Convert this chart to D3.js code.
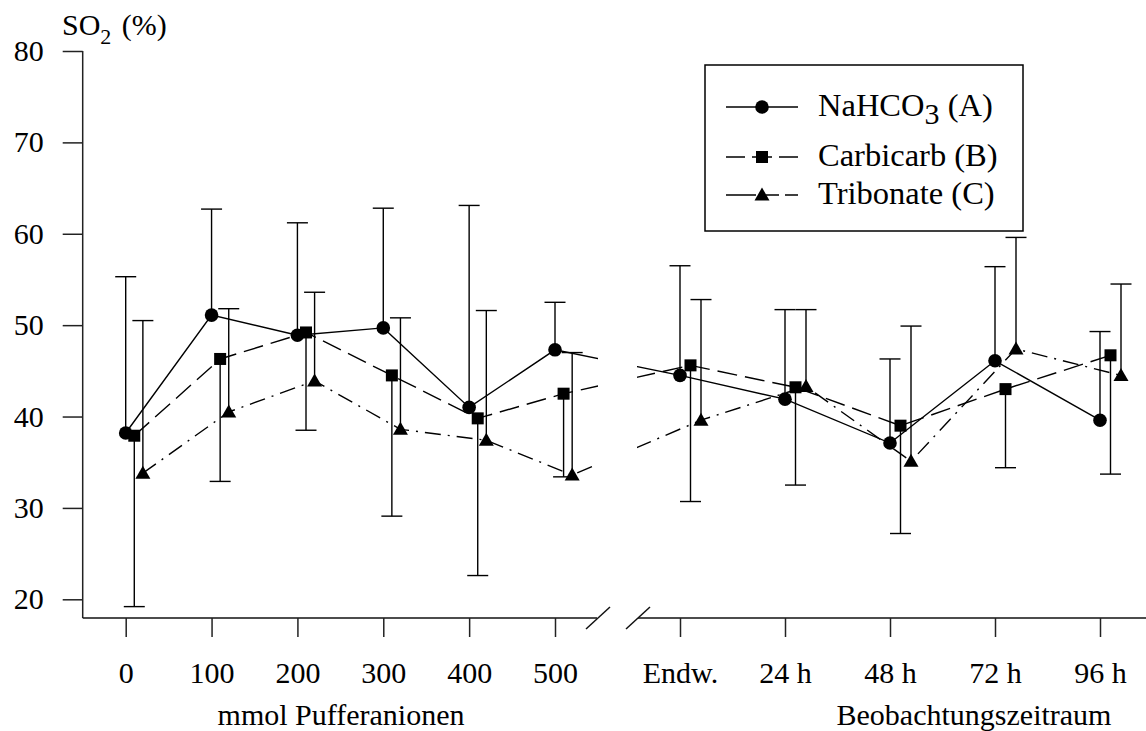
<!DOCTYPE html>
<html><head><meta charset="utf-8">
<script src="https://cdn.jsdelivr.net/npm/d3@7"></script>
<style>html,body{margin:0;padding:0;background:#fff}svg{display:block}text{font-family:"Liberation Serif","Times New Roman",serif;fill:#000}</style>
</head><body>
<svg id="c" width="1146" height="731"></svg>
<script>
// ---- data ----
const leftCats = ["0","100","200","300","400","500"];
const rightCats = ["Endw.","24 h","48 h","72 h","96 h"];
const yTicks = [20,30,40,50,60,70,80];
const seriesNames = ["NaHCO3 (A)","Carbicarb (B)","Tribonate (C)"];
// means (left 6 values, then right 5 values)
const valsA = [38.2,51.1,48.9,49.7,41.0,47.3, 44.5,41.9,37.1,46.1,39.6];
const valsB = [37.9,46.3,49.2,44.5,39.8,42.5, 45.6,43.2,39.0,43.0,46.7];
const valsC = [33.8,40.5,43.9,38.6,37.4,33.6, 39.6,43.3,35.1,47.4,44.5];
// error bar end values (A & C upward, B downward)
const errA = [55.3,62.7,61.2,62.8,63.1,52.5, 56.5,51.7,46.3,56.4,49.3];
const errB = [19.2,32.9,38.5,29.1,22.6,33.4, 30.7,32.5,27.2,34.4,33.7];
const errC = [50.5,51.8,53.6,50.8,51.6,47.0, 52.8,51.7,49.9,59.6,54.5];

const FS = 30;
const svg = d3.select("#c");
const y = d3.scaleLinear().domain([20,80]).range([599.3,51]);
const xL = d3.scaleLinear().domain([0,5]).range([125.7,555]);
const xR = d3.scaleLinear().domain([0,4]).range([680,1100]);
const stepL = xL(1)-xL(0), stepR = xR(1)-xR(0);
const axisY = 618, axisX = 82.7;

function xPos(i, k){
  if(i < leftCats.length) return xL(i) + k*0.1*stepL;
  return xR(i-leftCats.length) + k*0.1*stepR;
}

const series = [
  {vals:valsA, err:errA, dash:null, marker:"circle"},
  {vals:valsB, err:errB, dash:"20,8", marker:"square"},
  {vals:valsC, err:errC, dash:"16,7,2,7", marker:"triangle"}
];

// clip for axis break
const defs = svg.append("defs");
const cp = defs.append("clipPath").attr("id","brk");
cp.append("rect").attr("x",0).attr("y",0).attr("width",598).attr("height",731);
cp.append("rect").attr("x",637).attr("y",0).attr("width",509).attr("height",731);

// ---- axes ----
const yAxis = d3.axisLeft(y).tickValues(yTicks).tickSize(20).tickSizeOuter(0).tickPadding(19).tickFormat(d3.format("d"));
const gy = svg.append("g").attr("transform",`translate(${axisX},0)`).call(yAxis);
gy.select(".domain").remove();
gy.selectAll(".tick line").attr("stroke","#222").attr("stroke-width",1.5);
gy.selectAll(".tick text").attr("font-size",FS).attr("font-family","Liberation Serif").attr("fill","#000");
svg.append("line").attr("x1",axisX).attr("x2",axisX).attr("y1",y(80)).attr("y2",axisY).attr("stroke","#222").attr("stroke-width",1.5);

// x axis lines
svg.append("line").attr("x1",axisX).attr("x2",597).attr("y1",axisY).attr("y2",axisY).attr("stroke","#111").attr("stroke-width",1.5);
svg.append("line").attr("x1",638).attr("x2",1146).attr("y1",axisY).attr("y2",axisY).attr("stroke","#111").attr("stroke-width",1.5);
// break marks
[586,626].forEach(x0=>{
  svg.append("line").attr("x1",x0).attr("y1",629).attr("x2",x0+24).attr("y2",607).attr("stroke","#111").attr("stroke-width",1.5);
});

const axL = d3.axisBottom(xL).tickValues(d3.range(leftCats.length)).tickFormat(i=>leftCats[i]).tickSize(19).tickSizeOuter(0).tickPadding(25);
const gL = svg.append("g").attr("transform",`translate(0,${axisY})`).call(axL);
const axR = d3.axisBottom(xR).tickValues(d3.range(rightCats.length)).tickFormat(i=>rightCats[i]).tickSize(19).tickSizeOuter(0).tickPadding(25);
const gR = svg.append("g").attr("transform",`translate(0,${axisY})`).call(axR);
[gL,gR].forEach(g=>{
  g.select(".domain").remove();
  g.selectAll(".tick line").attr("stroke","#222").attr("stroke-width",1.5);
  g.selectAll(".tick text").attr("font-size",FS).attr("font-family","Liberation Serif").attr("fill","#000");
});

// axis titles
svg.append("text").attr("x",341).attr("y",725).attr("text-anchor","middle").attr("font-size",FS).text("mmol Pufferanionen");
svg.append("text").attr("x",974).attr("y",725).attr("text-anchor","middle").attr("font-size",FS).text("Beobachtungszeitraum");

// y label
const yl = svg.append("text").attr("x",62).attr("y",35).attr("font-size",30);
yl.append("tspan").text("SO");
yl.append("tspan").attr("font-size",22).attr("dy",9).text("2");
yl.append("tspan").attr("dy",-9).attr("dx",3).text(" (%)");

// ---- lines ----
series.forEach((s,k)=>{
  const line = d3.line().x((d,i)=>xPos(i,k)).y(d=>y(d));
  svg.append("path").attr("d",line(s.vals)).attr("fill","none").attr("stroke","#000")
    .attr("stroke-width",1.4).attr("stroke-dasharray",s.dash).attr("clip-path","url(#brk)");
});

// ---- error bars ----
series.forEach((s,k)=>{
  const g = svg.append("g").attr("stroke","#000").attr("stroke-width",1.4);
  s.vals.forEach((v,i)=>{
    const x = xPos(i,k);
    g.append("line").attr("x1",x).attr("x2",x).attr("y1",y(v)).attr("y2",y(s.err[i]));
    g.append("line").attr("x1",x-10.5).attr("x2",x+10.5).attr("y1",y(s.err[i])).attr("y2",y(s.err[i]));
  });
});

// ---- markers ----
function drawMarker(g, type, x, yy){
  if(type==="circle") g.append("circle").attr("cx",x).attr("cy",yy).attr("r",6.8).attr("fill","#000");
  else if(type==="square") g.append("rect").attr("x",x-6).attr("y",yy-6).attr("width",12).attr("height",12).attr("fill","#000");
  else g.append("path").attr("d",`M${x},${yy-7.5}L${x+7.5},${yy+5.5}L${x-7.5},${yy+5.5}Z`).attr("fill","#000");
}
series.forEach((s,k)=>{
  const g = svg.append("g");
  s.vals.forEach((v,i)=>drawMarker(g, s.marker, xPos(i,k), y(v)));
});

// ---- legend ----
const lg = svg.append("g");
lg.append("rect").attr("x",705).attr("y",65).attr("width",318).attr("height",166).attr("fill","#fff").attr("stroke","#000").attr("stroke-width",1.5);
const rowsY = [107,157,195];
const legDash = [null, "19,7,20,7,20", "30,10,13,6,13"];
series.forEach((s,k)=>{
  const ry = rowsY[k];
  lg.append("line").attr("x1",726).attr("x2",798).attr("y1",ry).attr("y2",ry).attr("stroke","#000").attr("stroke-width",1.4)
    .attr("stroke-dasharray", legDash[k]);
  drawMarker(lg, s.marker, 762, ry);
  const t = lg.append("text").attr("x",818).attr("y",ry+9).attr("font-size",32.5);
  if(k===0){
    t.append("tspan").text("NaHCO");
    t.append("tspan").attr("dy",8).attr("font-size",30).text("3");
    t.append("tspan").attr("dy",-8).text(" (A)");
  } else t.text(seriesNames[k]);
});
</script>
</body></html>
